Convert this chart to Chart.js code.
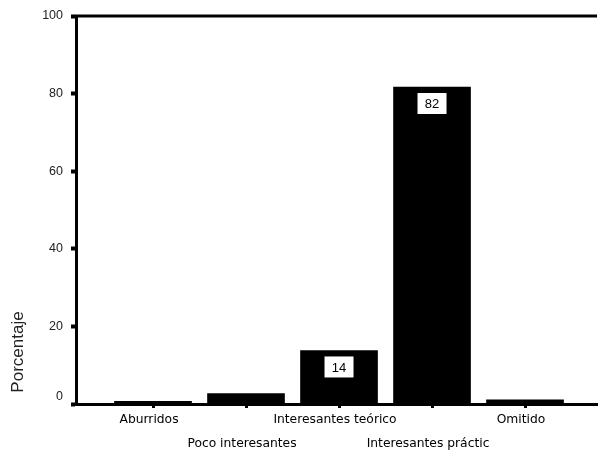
<!DOCTYPE html>
<html>
<head>
<meta charset="utf-8">
<script src="https://cdn.jsdelivr.net/npm/chart.js@4/dist/chart.umd.min.js"></script>
<style>
html,body{margin:0;padding:0;background:#fff;}
#wrap{width:599px;height:450px;}
</style>
</head>
<body>
<div id="wrap"><canvas id="c" width="599" height="450"></canvas></div>
<script>
const categories = ['Aburridos', 'Poco interesantes', 'Interesantes teórico', 'Interesantes práctic', 'Omitido'];
const percentages = [0.7, 2.7, 13.8, 81.7, 1.1];
const barLabels = ['', '', '14', '82', ''];
const yTicks = [0, 20, 40, 60, 80, 100];
const yTitle = 'Porcentaje';

const framePlugin = {
  id: 'frame',
  afterDatasetsDraw(chart) {
    const ctx = chart.ctx, a = chart.chartArea;
    ctx.save();
    ctx.strokeStyle = '#000';
    ctx.lineWidth = 3;
    ctx.beginPath();
    ctx.moveTo(a.left - 1.5, a.top);
    ctx.lineTo(a.right, a.top);
    ctx.stroke();
    const meta = chart.getDatasetMeta(0);
    ctx.font = '13px "Liberation Sans", Arial, sans-serif';
    ctx.textAlign = 'center';
    ctx.textBaseline = 'middle';
    meta.data.forEach((el, i) => {
      const t = barLabels[i];
      if (!t) return;
      const w = 29, h = 21;
      const bx = el.x - w / 2, by = el.y + 6;
      ctx.fillStyle = '#fff';
      ctx.fillRect(bx, by, w, h);
      ctx.fillStyle = '#000';
      ctx.fillText(t, el.x, by + h / 2 + 1);
    });
    ctx.translate(18, 352);
    ctx.rotate(-Math.PI / 2);
    ctx.font = '17px "Liberation Sans", Arial, sans-serif';
    ctx.fillStyle = '#222';
    ctx.fillText(yTitle, 0, 0);
    ctx.restore();
  }
};

new Chart(document.getElementById('c'), {
  type: 'bar',
  data: {
    datasets: [{
      data: percentages.map((v, i) => ({x: i, y: v})),
      backgroundColor: '#000',
      borderWidth: 0,
      barThickness: 77
    }]
  },
  options: {
    responsive: false,
    animation: false,
    events: [],
    layout: {padding: {top: 16, right: 2, left: 0, bottom: 0}},
    plugins: {legend: {display: false}, tooltip: {enabled: false}},
    scales: {
      x: {
        type: 'linear',
        offset: false,
        min: -0.828,
        max: 4.774,
        afterBuildTicks(scale) { scale.ticks = categories.map((c, i) => ({value: i})); },
        afterFit(scale) { scale.height = 46; },
        ticks: {
          autoSkip: false,
          maxRotation: 0,
          padding: 0,
          labelOffset: -4,
          color: '#000',
          font: {family: '"DejaVu Sans", Verdana, sans-serif', size: 12.3, lineHeight: '24px'},
          callback(value) {
            const i = Math.round(value);
            return i % 2 === 1 ? ['', categories[i]] : categories[i];
          }
        },
        grid: {display: true, offset: false, drawOnChartArea: false, drawTicks: true, tickLength: 4, tickWidth: 3, color: '#000'},
        border: {display: true, color: '#000', width: 3}
      },
      y: {
        min: 0,
        max: 100,
        afterBuildTicks(scale) { scale.ticks = yTicks.map(v => ({value: v})); },
        afterFit(scale) { scale.width = 76; },
        ticks: {
          padding: 8,
          color: '#222',
          font: {family: '"Liberation Sans", Arial, sans-serif', size: 12.5},
          callback(value) { return value === 0 ? ['0', ''] : String(value); }
        },
        grid: {display: true, drawOnChartArea: false, drawTicks: true, tickLength: 5, tickWidth: 4, color: '#000'},
        border: {display: true, color: '#000', width: 3}
      }
    }
  },
  plugins: [framePlugin]
});
</script>
</body>
</html>
